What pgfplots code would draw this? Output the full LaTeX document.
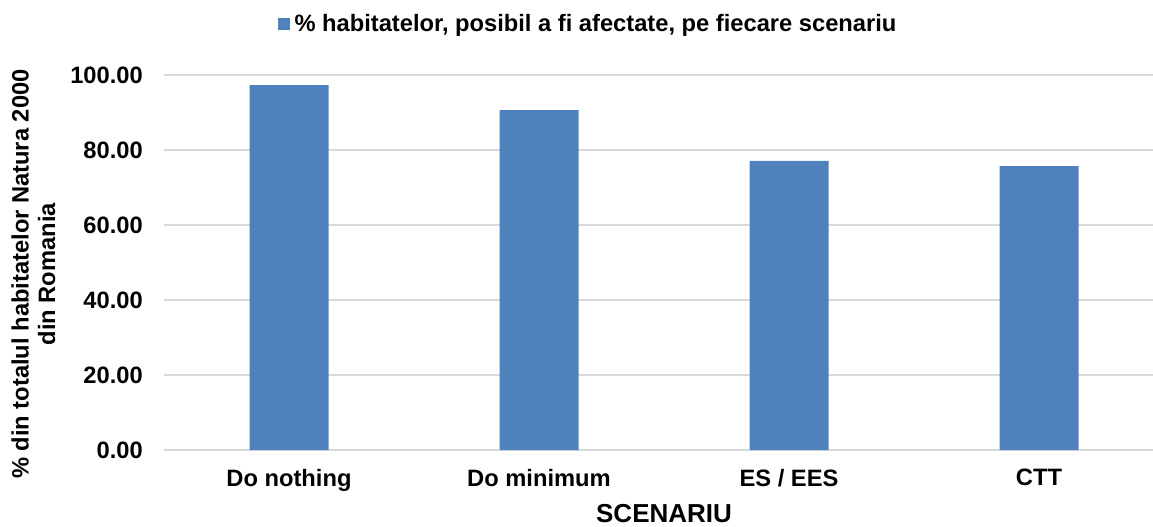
\documentclass[border=0pt]{standalone}
\usepackage{fontspec}
\setmainfont{Liberation Sans}
\usepackage{pgfplots}
\pgfplotsset{compat=1.18}
\usetikzlibrary{calc}
\definecolor{barblue}{HTML}{4F81BD}
\definecolor{gridgray}{HTML}{D9D9D9}
\newcommand{\chartfont}{\fontsize{23.7}{26.5}\selectfont\bfseries}

\begin{document}
\begin{tikzpicture}
\begin{axis}[
  width=989pt, height=375pt, scale only axis,
  ybar, bar width=79pt,
  xmin=-0.5, xmax=3.456, ymin=0, ymax=100,
  xtick={0,1,2,3}, xticklabels={Do nothing, Do minimum, ES / EES, CTT},
  ytick={0,20,...,100},
  ymajorgrids, grid style={gridgray, line width=1.5pt},
  axis line style={draw=none}, major tick length=0pt,
  tick label style={font=\chartfont},
  /pgf/number format/assume math mode=true,
  yticklabel style={inner sep=0pt, xshift=-21pt, /pgf/number format/.cd, fixed, fixed zerofill, precision=2},
  xticklabel style={inner sep=0pt, yshift=-19pt},
  xlabel={SCENARIU},
  xlabel style={at={(rel axis cs:0.5056,-0.170)}, anchor=center, inner sep=0pt, font=\fontsize{26}{28}\selectfont\bfseries},
  ylabel={\% din totalul habitatelor Natura 2000\\din Romania},
  ylabel style={at={(rel axis cs:-0.132,0.469)}, anchor=center, align=center, inner sep=0pt, font=\chartfont},
  legend style={at={(rel axis cs:0.4287,1.136)}, anchor=center, draw=none, fill=none, font=\chartfont,
    /tikz/every odd column/.append style={column sep=3pt}},
  legend image code/.code={\fill[barblue] (0pt,-6pt) rectangle (12pt,6pt);},
  clip=false,
]
\addplot[fill=barblue, draw=none] coordinates {(0,97.33) (1,90.6) (2,77.07) (3,75.73)};
\addlegendentry{\% habitatelor, posibil a fi afectate, pe fiecare scenariu}
\coordinate (sw) at (rel axis cs:0,0);
\coordinate (ne) at (rel axis cs:1,1);
\end{axis}
\pgfresetboundingbox
\path ($(sw)+(-164pt,-77pt)$) rectangle ($(ne)+(0pt,75pt)$);
\end{tikzpicture}
\end{document}
